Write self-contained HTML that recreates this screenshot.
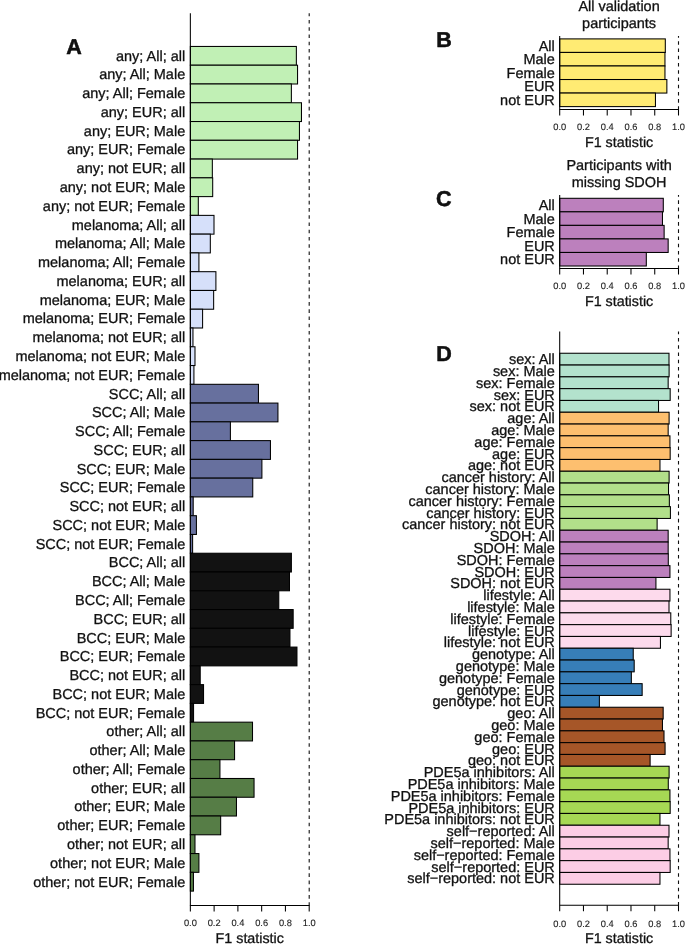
<!DOCTYPE html>
<html lang="en"><head><meta charset="utf-8"><title>F1 statistic by subgroup</title>
<style>
html,body{margin:0;padding:0;background:#fff}
body{width:685px;height:944px;overflow:hidden}
svg{display:block;font-family:"Liberation Sans",Arial,Helvetica,sans-serif;fill:#111}
text{stroke:#111;stroke-width:0.3px;text-rendering:geometricPrecision}
text.t{text-anchor:middle;fill:#222;stroke:#222;stroke-width:0.12px}
text.L{font-weight:bold;stroke:#000;stroke-width:0.5px}
</style></head><body>
<svg width="685" height="944" viewBox="0 0 685 944">
<rect x="0" y="0" width="685" height="944" fill="#fff" stroke="none"/>
<rect x="190.35" y="46.45" width="106.01" height="18.77" fill="#C1F0B5" stroke="#000" stroke-width="1.05"/>
<rect x="190.35" y="65.22" width="107.20" height="18.77" fill="#C1F0B5" stroke="#000" stroke-width="1.05"/>
<rect x="190.35" y="83.99" width="101.02" height="18.77" fill="#C1F0B5" stroke="#000" stroke-width="1.05"/>
<rect x="190.35" y="102.76" width="111.12" height="18.77" fill="#C1F0B5" stroke="#000" stroke-width="1.05"/>
<rect x="190.35" y="121.53" width="109.10" height="18.77" fill="#C1F0B5" stroke="#000" stroke-width="1.05"/>
<rect x="190.35" y="140.30" width="107.20" height="18.77" fill="#C1F0B5" stroke="#000" stroke-width="1.05"/>
<rect x="190.35" y="159.07" width="21.99" height="18.77" fill="#C1F0B5" stroke="#000" stroke-width="1.05"/>
<rect x="190.35" y="177.84" width="22.34" height="18.77" fill="#C1F0B5" stroke="#000" stroke-width="1.05"/>
<rect x="190.35" y="196.61" width="7.96" height="18.77" fill="#C1F0B5" stroke="#000" stroke-width="1.05"/>
<rect x="190.35" y="215.38" width="23.65" height="18.77" fill="#D6E0FA" stroke="#000" stroke-width="1.05"/>
<rect x="190.35" y="234.15" width="19.97" height="18.77" fill="#D6E0FA" stroke="#000" stroke-width="1.05"/>
<rect x="190.35" y="252.92" width="8.56" height="18.77" fill="#D6E0FA" stroke="#000" stroke-width="1.05"/>
<rect x="190.35" y="271.69" width="25.55" height="18.77" fill="#D6E0FA" stroke="#000" stroke-width="1.05"/>
<rect x="190.35" y="290.46" width="23.29" height="18.77" fill="#D6E0FA" stroke="#000" stroke-width="1.05"/>
<rect x="190.35" y="309.23" width="12.24" height="18.77" fill="#D6E0FA" stroke="#000" stroke-width="1.05"/>
<rect x="190.35" y="328.00" width="2.61" height="18.77" fill="#D6E0FA" stroke="#000" stroke-width="1.05"/>
<rect x="190.35" y="346.77" width="4.64" height="18.77" fill="#D6E0FA" stroke="#000" stroke-width="1.05"/>
<rect x="190.35" y="365.54" width="3.57" height="18.77" fill="#D6E0FA" stroke="#000" stroke-width="1.05"/>
<rect x="190.35" y="384.31" width="68.10" height="18.77" fill="#67709E" stroke="#000" stroke-width="1.05"/>
<rect x="190.35" y="403.08" width="87.59" height="18.77" fill="#67709E" stroke="#000" stroke-width="1.05"/>
<rect x="190.35" y="421.85" width="40.05" height="18.77" fill="#67709E" stroke="#000" stroke-width="1.05"/>
<rect x="190.35" y="440.62" width="80.10" height="18.77" fill="#67709E" stroke="#000" stroke-width="1.05"/>
<rect x="190.35" y="459.39" width="71.55" height="18.77" fill="#67709E" stroke="#000" stroke-width="1.05"/>
<rect x="190.35" y="478.16" width="62.40" height="18.77" fill="#67709E" stroke="#000" stroke-width="1.05"/>
<rect x="190.35" y="496.93" width="2.85" height="18.77" fill="#67709E" stroke="#000" stroke-width="1.05"/>
<rect x="190.35" y="515.70" width="6.06" height="18.77" fill="#67709E" stroke="#000" stroke-width="1.05"/>
<rect x="190.35" y="534.47" width="2.26" height="18.77" fill="#67709E" stroke="#000" stroke-width="1.05"/>
<rect x="190.35" y="553.24" width="101.02" height="18.77" fill="#121212" stroke="#000" stroke-width="1.05"/>
<rect x="190.35" y="572.01" width="99.12" height="18.77" fill="#121212" stroke="#000" stroke-width="1.05"/>
<rect x="190.35" y="590.78" width="88.42" height="18.77" fill="#121212" stroke="#000" stroke-width="1.05"/>
<rect x="190.35" y="609.55" width="102.81" height="18.77" fill="#121212" stroke="#000" stroke-width="1.05"/>
<rect x="190.35" y="628.32" width="99.60" height="18.77" fill="#121212" stroke="#000" stroke-width="1.05"/>
<rect x="190.35" y="647.09" width="106.61" height="18.77" fill="#121212" stroke="#000" stroke-width="1.05"/>
<rect x="190.35" y="665.86" width="9.86" height="18.77" fill="#121212" stroke="#000" stroke-width="1.05"/>
<rect x="190.35" y="684.63" width="13.19" height="18.77" fill="#121212" stroke="#000" stroke-width="1.05"/>
<rect x="190.35" y="703.40" width="3.21" height="18.77" fill="#121212" stroke="#000" stroke-width="1.05"/>
<rect x="190.35" y="722.17" width="62.16" height="18.77" fill="#567D46" stroke="#000" stroke-width="1.05"/>
<rect x="190.35" y="740.94" width="44.21" height="18.77" fill="#567D46" stroke="#000" stroke-width="1.05"/>
<rect x="190.35" y="759.71" width="29.59" height="18.77" fill="#567D46" stroke="#000" stroke-width="1.05"/>
<rect x="190.35" y="778.48" width="63.70" height="18.77" fill="#567D46" stroke="#000" stroke-width="1.05"/>
<rect x="190.35" y="797.25" width="46.11" height="18.77" fill="#567D46" stroke="#000" stroke-width="1.05"/>
<rect x="190.35" y="816.02" width="30.31" height="18.77" fill="#567D46" stroke="#000" stroke-width="1.05"/>
<rect x="190.35" y="834.79" width="4.64" height="18.77" fill="#567D46" stroke="#000" stroke-width="1.05"/>
<rect x="190.35" y="853.56" width="8.56" height="18.77" fill="#567D46" stroke="#000" stroke-width="1.05"/>
<rect x="190.35" y="872.33" width="3.09" height="18.77" fill="#567D46" stroke="#000" stroke-width="1.05"/>
<line x1="309.20" y1="905.90" x2="309.20" y2="13.30" stroke="#111" stroke-width="1.1" stroke-dasharray="3.6 3.632"/>
<path d="M190.35 13.30V905.40H309.20" fill="none" stroke="#000" stroke-width="1.05"/>
<path d="M190.35 905.40v6M214.12 905.40v6M237.89 905.40v6M261.66 905.40v6M285.43 905.40v6M309.20 905.40v6" fill="none" stroke="#000" stroke-width="1.05"/>
<text x="190.35" y="926.30" class="t" font-size="9.3">0.0</text>
<text x="214.12" y="926.30" class="t" font-size="9.3">0.2</text>
<text x="237.89" y="926.30" class="t" font-size="9.3">0.4</text>
<text x="261.66" y="926.30" class="t" font-size="9.3">0.6</text>
<text x="285.43" y="926.30" class="t" font-size="9.3">0.8</text>
<text x="309.20" y="926.30" class="t" font-size="9.3">1.0</text>
<text x="249.77" y="942.70" font-size="14.3" text-anchor="middle">F1 statistic</text>
<text x="185.20" y="60.63" font-size="14.48" text-anchor="end">any; All; all</text>
<text x="185.20" y="79.41" font-size="14.48" text-anchor="end">any; All; Male</text>
<text x="185.20" y="98.17" font-size="14.48" text-anchor="end">any; All; Female</text>
<text x="185.20" y="116.94" font-size="14.48" text-anchor="end">any; EUR; all</text>
<text x="185.20" y="135.72" font-size="14.48" text-anchor="end">any; EUR; Male</text>
<text x="185.20" y="154.49" font-size="14.48" text-anchor="end">any; EUR; Female</text>
<text x="185.20" y="173.25" font-size="14.48" text-anchor="end">any; not EUR; all</text>
<text x="185.20" y="192.03" font-size="14.48" text-anchor="end">any; not EUR; Male</text>
<text x="185.20" y="210.80" font-size="14.48" text-anchor="end">any; not EUR; Female</text>
<text x="185.20" y="229.56" font-size="14.48" text-anchor="end">melanoma; All; all</text>
<text x="185.20" y="248.34" font-size="14.48" text-anchor="end">melanoma; All; Male</text>
<text x="185.20" y="267.11" font-size="14.48" text-anchor="end">melanoma; All; Female</text>
<text x="185.20" y="285.88" font-size="14.48" text-anchor="end">melanoma; EUR; all</text>
<text x="185.20" y="304.64" font-size="14.48" text-anchor="end">melanoma; EUR; Male</text>
<text x="185.20" y="323.42" font-size="14.48" text-anchor="end">melanoma; EUR; Female</text>
<text x="185.20" y="342.19" font-size="14.48" text-anchor="end">melanoma; not EUR; all</text>
<text x="185.20" y="360.95" font-size="14.48" text-anchor="end">melanoma; not EUR; Male</text>
<text x="185.20" y="379.72" font-size="14.48" text-anchor="end">melanoma; not EUR; Female</text>
<text x="185.20" y="398.50" font-size="14.48" text-anchor="end">SCC; All; all</text>
<text x="185.20" y="417.26" font-size="14.48" text-anchor="end">SCC; All; Male</text>
<text x="185.20" y="436.03" font-size="14.48" text-anchor="end">SCC; All; Female</text>
<text x="185.20" y="454.81" font-size="14.48" text-anchor="end">SCC; EUR; all</text>
<text x="185.20" y="473.57" font-size="14.48" text-anchor="end">SCC; EUR; Male</text>
<text x="185.20" y="492.34" font-size="14.48" text-anchor="end">SCC; EUR; Female</text>
<text x="185.20" y="511.12" font-size="14.48" text-anchor="end">SCC; not EUR; all</text>
<text x="185.20" y="529.88" font-size="14.48" text-anchor="end">SCC; not EUR; Male</text>
<text x="185.20" y="548.65" font-size="14.48" text-anchor="end">SCC; not EUR; Female</text>
<text x="185.20" y="567.42" font-size="14.48" text-anchor="end">BCC; All; all</text>
<text x="185.20" y="586.19" font-size="14.48" text-anchor="end">BCC; All; Male</text>
<text x="185.20" y="604.97" font-size="14.48" text-anchor="end">BCC; All; Female</text>
<text x="185.20" y="623.74" font-size="14.48" text-anchor="end">BCC; EUR; all</text>
<text x="185.20" y="642.50" font-size="14.48" text-anchor="end">BCC; EUR; Male</text>
<text x="185.20" y="661.27" font-size="14.48" text-anchor="end">BCC; EUR; Female</text>
<text x="185.20" y="680.04" font-size="14.48" text-anchor="end">BCC; not EUR; all</text>
<text x="185.20" y="698.81" font-size="14.48" text-anchor="end">BCC; not EUR; Male</text>
<text x="185.20" y="717.59" font-size="14.48" text-anchor="end">BCC; not EUR; Female</text>
<text x="185.20" y="736.36" font-size="14.48" text-anchor="end">other; All; all</text>
<text x="185.20" y="755.12" font-size="14.48" text-anchor="end">other; All; Male</text>
<text x="185.20" y="773.89" font-size="14.48" text-anchor="end">other; All; Female</text>
<text x="185.20" y="792.66" font-size="14.48" text-anchor="end">other; EUR; all</text>
<text x="185.20" y="811.43" font-size="14.48" text-anchor="end">other; EUR; Male</text>
<text x="185.20" y="830.20" font-size="14.48" text-anchor="end">other; EUR; Female</text>
<text x="185.20" y="848.98" font-size="14.48" text-anchor="end">other; not EUR; all</text>
<text x="185.20" y="867.75" font-size="14.48" text-anchor="end">other; not EUR; Male</text>
<text x="185.20" y="886.51" font-size="14.48" text-anchor="end">other; not EUR; Female</text>
<text x="66.20" y="53.70" class="L" font-size="21.5">A</text>
<rect x="559.70" y="38.90" width="105.61" height="13.54" fill="#FFEB73" stroke="#000" stroke-width="1.05"/>
<rect x="559.70" y="52.44" width="105.26" height="13.54" fill="#FFEB73" stroke="#000" stroke-width="1.05"/>
<rect x="559.70" y="65.98" width="105.26" height="13.54" fill="#FFEB73" stroke="#000" stroke-width="1.05"/>
<rect x="559.70" y="79.52" width="107.16" height="13.54" fill="#FFEB73" stroke="#000" stroke-width="1.05"/>
<rect x="559.70" y="93.06" width="95.75" height="13.54" fill="#FFEB73" stroke="#000" stroke-width="1.05"/>
<line x1="678.50" y1="109.95" x2="678.50" y2="36.00" stroke="#111" stroke-width="1.1" stroke-dasharray="3.6 3.632"/>
<path d="M559.70 36.00V109.45H678.50" fill="none" stroke="#000" stroke-width="1.05"/>
<path d="M559.70 109.45v6M583.46 109.45v6M607.22 109.45v6M630.98 109.45v6M654.74 109.45v6M678.50 109.45v6" fill="none" stroke="#000" stroke-width="1.05"/>
<text x="559.70" y="130.30" class="t" font-size="9.3">0.0</text>
<text x="583.46" y="130.30" class="t" font-size="9.3">0.2</text>
<text x="607.22" y="130.30" class="t" font-size="9.3">0.4</text>
<text x="630.98" y="130.30" class="t" font-size="9.3">0.6</text>
<text x="654.74" y="130.30" class="t" font-size="9.3">0.8</text>
<text x="678.50" y="130.30" class="t" font-size="9.3">1.0</text>
<text x="619.10" y="147.35" font-size="14.3" text-anchor="middle">F1 statistic</text>
<text x="554.80" y="50.67" font-size="14.48" text-anchor="end">All</text>
<text x="554.80" y="64.21" font-size="14.48" text-anchor="end">Male</text>
<text x="554.80" y="77.75" font-size="14.48" text-anchor="end">Female</text>
<text x="554.80" y="91.29" font-size="14.48" text-anchor="end">EUR</text>
<text x="554.80" y="104.83" font-size="14.48" text-anchor="end">not EUR</text>
<text x="436.30" y="46.50" class="L" font-size="21.5">B</text>
<text x="619.10" y="10.60" font-size="14.48" text-anchor="middle">All validation</text>
<text x="619.10" y="27.50" font-size="14.48" text-anchor="middle">participants</text>
<rect x="559.70" y="198.30" width="103.59" height="13.54" fill="#BC80BD" stroke="#000" stroke-width="1.05"/>
<rect x="559.70" y="211.84" width="102.76" height="13.54" fill="#BC80BD" stroke="#000" stroke-width="1.05"/>
<rect x="559.70" y="225.38" width="104.43" height="13.54" fill="#BC80BD" stroke="#000" stroke-width="1.05"/>
<rect x="559.70" y="238.92" width="108.46" height="13.54" fill="#BC80BD" stroke="#000" stroke-width="1.05"/>
<rect x="559.70" y="252.46" width="86.61" height="13.54" fill="#BC80BD" stroke="#000" stroke-width="1.05"/>
<line x1="678.50" y1="269.05" x2="678.50" y2="194.90" stroke="#111" stroke-width="1.1" stroke-dasharray="3.6 3.632"/>
<path d="M559.70 194.90V268.55H678.50" fill="none" stroke="#000" stroke-width="1.05"/>
<path d="M559.70 268.55v6M583.46 268.55v6M607.22 268.55v6M630.98 268.55v6M654.74 268.55v6M678.50 268.55v6" fill="none" stroke="#000" stroke-width="1.05"/>
<text x="559.70" y="289.00" class="t" font-size="9.3">0.0</text>
<text x="583.46" y="289.00" class="t" font-size="9.3">0.2</text>
<text x="607.22" y="289.00" class="t" font-size="9.3">0.4</text>
<text x="630.98" y="289.00" class="t" font-size="9.3">0.6</text>
<text x="654.74" y="289.00" class="t" font-size="9.3">0.8</text>
<text x="678.50" y="289.00" class="t" font-size="9.3">1.0</text>
<text x="619.10" y="306.30" font-size="14.3" text-anchor="middle">F1 statistic</text>
<text x="554.80" y="210.17" font-size="14.48" text-anchor="end">All</text>
<text x="554.80" y="223.71" font-size="14.48" text-anchor="end">Male</text>
<text x="554.80" y="237.25" font-size="14.48" text-anchor="end">Female</text>
<text x="554.80" y="250.79" font-size="14.48" text-anchor="end">EUR</text>
<text x="554.80" y="264.33" font-size="14.48" text-anchor="end">not EUR</text>
<text x="436.00" y="205.50" class="L" font-size="21.5">C</text>
<text x="619.10" y="170.10" font-size="14.48" text-anchor="middle">Participants with</text>
<text x="619.10" y="187.00" font-size="14.48" text-anchor="middle">missing SDOH</text>
<rect x="559.70" y="353.25" width="109.30" height="11.80" fill="#B3E2CD" stroke="#000" stroke-width="1.05"/>
<rect x="559.70" y="365.05" width="109.41" height="11.80" fill="#B3E2CD" stroke="#000" stroke-width="1.05"/>
<rect x="559.70" y="376.85" width="108.46" height="11.80" fill="#B3E2CD" stroke="#000" stroke-width="1.05"/>
<rect x="559.70" y="388.65" width="110.48" height="11.80" fill="#B3E2CD" stroke="#000" stroke-width="1.05"/>
<rect x="559.70" y="400.45" width="98.84" height="11.80" fill="#B3E2CD" stroke="#000" stroke-width="1.05"/>
<rect x="559.70" y="412.25" width="109.41" height="11.80" fill="#FDBF6F" stroke="#000" stroke-width="1.05"/>
<rect x="559.70" y="424.05" width="108.46" height="11.80" fill="#FDBF6F" stroke="#000" stroke-width="1.05"/>
<rect x="559.70" y="435.85" width="110.25" height="11.80" fill="#FDBF6F" stroke="#000" stroke-width="1.05"/>
<rect x="559.70" y="447.65" width="110.48" height="11.80" fill="#FDBF6F" stroke="#000" stroke-width="1.05"/>
<rect x="559.70" y="459.45" width="100.27" height="11.80" fill="#FDBF6F" stroke="#000" stroke-width="1.05"/>
<rect x="559.70" y="471.25" width="109.41" height="11.80" fill="#B2DF8A" stroke="#000" stroke-width="1.05"/>
<rect x="559.70" y="483.05" width="108.82" height="11.80" fill="#B2DF8A" stroke="#000" stroke-width="1.05"/>
<rect x="559.70" y="494.85" width="109.65" height="11.80" fill="#B2DF8A" stroke="#000" stroke-width="1.05"/>
<rect x="559.70" y="506.65" width="110.72" height="11.80" fill="#B2DF8A" stroke="#000" stroke-width="1.05"/>
<rect x="559.70" y="518.45" width="97.42" height="11.80" fill="#B2DF8A" stroke="#000" stroke-width="1.05"/>
<rect x="559.70" y="530.25" width="108.46" height="11.80" fill="#BC80BD" stroke="#000" stroke-width="1.05"/>
<rect x="559.70" y="542.05" width="108.46" height="11.80" fill="#BC80BD" stroke="#000" stroke-width="1.05"/>
<rect x="559.70" y="553.85" width="108.58" height="11.80" fill="#BC80BD" stroke="#000" stroke-width="1.05"/>
<rect x="559.70" y="565.65" width="110.25" height="11.80" fill="#BC80BD" stroke="#000" stroke-width="1.05"/>
<rect x="559.70" y="577.45" width="96.23" height="11.80" fill="#BC80BD" stroke="#000" stroke-width="1.05"/>
<rect x="559.70" y="589.25" width="110.25" height="11.80" fill="#FDDAEC" stroke="#000" stroke-width="1.05"/>
<rect x="559.70" y="601.05" width="109.30" height="11.80" fill="#FDDAEC" stroke="#000" stroke-width="1.05"/>
<rect x="559.70" y="612.85" width="111.08" height="11.80" fill="#FDDAEC" stroke="#000" stroke-width="1.05"/>
<rect x="559.70" y="624.65" width="111.43" height="11.80" fill="#FDDAEC" stroke="#000" stroke-width="1.05"/>
<rect x="559.70" y="636.45" width="100.74" height="11.80" fill="#FDDAEC" stroke="#000" stroke-width="1.05"/>
<rect x="559.70" y="648.25" width="73.54" height="11.80" fill="#377EB8" stroke="#000" stroke-width="1.05"/>
<rect x="559.70" y="660.05" width="74.49" height="11.80" fill="#377EB8" stroke="#000" stroke-width="1.05"/>
<rect x="559.70" y="671.85" width="71.64" height="11.80" fill="#377EB8" stroke="#000" stroke-width="1.05"/>
<rect x="559.70" y="683.65" width="82.45" height="11.80" fill="#377EB8" stroke="#000" stroke-width="1.05"/>
<rect x="559.70" y="695.45" width="39.68" height="11.80" fill="#377EB8" stroke="#000" stroke-width="1.05"/>
<rect x="559.70" y="707.25" width="103.47" height="11.80" fill="#A65628" stroke="#000" stroke-width="1.05"/>
<rect x="559.70" y="719.05" width="102.76" height="11.80" fill="#A65628" stroke="#000" stroke-width="1.05"/>
<rect x="559.70" y="730.85" width="104.31" height="11.80" fill="#A65628" stroke="#000" stroke-width="1.05"/>
<rect x="559.70" y="742.65" width="105.38" height="11.80" fill="#A65628" stroke="#000" stroke-width="1.05"/>
<rect x="559.70" y="754.45" width="90.41" height="11.80" fill="#A65628" stroke="#000" stroke-width="1.05"/>
<rect x="559.70" y="766.25" width="109.41" height="11.80" fill="#A6D854" stroke="#000" stroke-width="1.05"/>
<rect x="559.70" y="778.05" width="108.58" height="11.80" fill="#A6D854" stroke="#000" stroke-width="1.05"/>
<rect x="559.70" y="789.85" width="110.25" height="11.80" fill="#A6D854" stroke="#000" stroke-width="1.05"/>
<rect x="559.70" y="801.65" width="110.48" height="11.80" fill="#A6D854" stroke="#000" stroke-width="1.05"/>
<rect x="559.70" y="813.45" width="100.27" height="11.80" fill="#A6D854" stroke="#000" stroke-width="1.05"/>
<rect x="559.70" y="825.25" width="109.30" height="11.80" fill="#FCCDE5" stroke="#000" stroke-width="1.05"/>
<rect x="559.70" y="837.05" width="108.46" height="11.80" fill="#FCCDE5" stroke="#000" stroke-width="1.05"/>
<rect x="559.70" y="848.85" width="110.25" height="11.80" fill="#FCCDE5" stroke="#000" stroke-width="1.05"/>
<rect x="559.70" y="860.65" width="110.48" height="11.80" fill="#FCCDE5" stroke="#000" stroke-width="1.05"/>
<rect x="559.70" y="872.45" width="100.27" height="11.80" fill="#FCCDE5" stroke="#000" stroke-width="1.05"/>
<line x1="678.50" y1="905.70" x2="678.50" y2="331.60" stroke="#111" stroke-width="1.1" stroke-dasharray="3.6 3.632"/>
<path d="M559.70 331.60V905.20H678.50" fill="none" stroke="#000" stroke-width="1.05"/>
<path d="M559.70 905.20v6M583.46 905.20v6M607.22 905.20v6M630.98 905.20v6M654.74 905.20v6M678.50 905.20v6" fill="none" stroke="#000" stroke-width="1.05"/>
<text x="559.70" y="926.50" class="t" font-size="9.3">0.0</text>
<text x="583.46" y="926.50" class="t" font-size="9.3">0.2</text>
<text x="607.22" y="926.50" class="t" font-size="9.3">0.4</text>
<text x="630.98" y="926.50" class="t" font-size="9.3">0.6</text>
<text x="654.74" y="926.50" class="t" font-size="9.3">0.8</text>
<text x="678.50" y="926.50" class="t" font-size="9.3">1.0</text>
<text x="619.10" y="943.40" font-size="14.3" text-anchor="middle">F1 statistic</text>
<text x="554.80" y="364.25" font-size="14.48" text-anchor="end">sex: All</text>
<text x="554.80" y="376.05" font-size="14.48" text-anchor="end">sex: Male</text>
<text x="554.80" y="387.85" font-size="14.48" text-anchor="end">sex: Female</text>
<text x="554.80" y="399.65" font-size="14.48" text-anchor="end">sex: EUR</text>
<text x="554.80" y="411.45" font-size="14.48" text-anchor="end">sex: not EUR</text>
<text x="554.80" y="423.25" font-size="14.48" text-anchor="end">age: All</text>
<text x="554.80" y="435.05" font-size="14.48" text-anchor="end">age: Male</text>
<text x="554.80" y="446.85" font-size="14.48" text-anchor="end">age: Female</text>
<text x="554.80" y="458.65" font-size="14.48" text-anchor="end">age: EUR</text>
<text x="554.80" y="470.45" font-size="14.48" text-anchor="end">age: not EUR</text>
<text x="554.80" y="482.25" font-size="14.48" text-anchor="end">cancer history: All</text>
<text x="554.80" y="494.05" font-size="14.48" text-anchor="end">cancer history: Male</text>
<text x="554.80" y="505.85" font-size="14.48" text-anchor="end">cancer history: Female</text>
<text x="554.80" y="517.65" font-size="14.48" text-anchor="end">cancer history: EUR</text>
<text x="554.80" y="529.45" font-size="14.48" text-anchor="end">cancer history: not EUR</text>
<text x="554.80" y="541.25" font-size="14.48" text-anchor="end">SDOH: All</text>
<text x="554.80" y="553.05" font-size="14.48" text-anchor="end">SDOH: Male</text>
<text x="554.80" y="564.85" font-size="14.48" text-anchor="end">SDOH: Female</text>
<text x="554.80" y="576.65" font-size="14.48" text-anchor="end">SDOH: EUR</text>
<text x="554.80" y="588.45" font-size="14.48" text-anchor="end">SDOH: not EUR</text>
<text x="554.80" y="600.25" font-size="14.48" text-anchor="end">lifestyle: All</text>
<text x="554.80" y="612.05" font-size="14.48" text-anchor="end">lifestyle: Male</text>
<text x="554.80" y="623.85" font-size="14.48" text-anchor="end">lifestyle: Female</text>
<text x="554.80" y="635.65" font-size="14.48" text-anchor="end">lifestyle: EUR</text>
<text x="554.80" y="647.45" font-size="14.48" text-anchor="end">lifestyle: not EUR</text>
<text x="554.80" y="659.25" font-size="14.48" text-anchor="end">genotype: All</text>
<text x="554.80" y="671.05" font-size="14.48" text-anchor="end">genotype: Male</text>
<text x="554.80" y="682.85" font-size="14.48" text-anchor="end">genotype: Female</text>
<text x="554.80" y="694.65" font-size="14.48" text-anchor="end">genotype: EUR</text>
<text x="554.80" y="706.45" font-size="14.48" text-anchor="end">genotype: not EUR</text>
<text x="554.80" y="718.25" font-size="14.48" text-anchor="end">geo: All</text>
<text x="554.80" y="730.05" font-size="14.48" text-anchor="end">geo: Male</text>
<text x="554.80" y="741.85" font-size="14.48" text-anchor="end">geo: Female</text>
<text x="554.80" y="753.65" font-size="14.48" text-anchor="end">geo: EUR</text>
<text x="554.80" y="765.45" font-size="14.48" text-anchor="end">geo: not EUR</text>
<text x="554.80" y="777.25" font-size="14.48" text-anchor="end">PDE5a inhibitors: All</text>
<text x="554.80" y="789.05" font-size="14.48" text-anchor="end">PDE5a inhibitors: Male</text>
<text x="554.80" y="800.85" font-size="14.48" text-anchor="end">PDE5a inhibitors: Female</text>
<text x="554.80" y="812.65" font-size="14.48" text-anchor="end">PDE5a inhibitors: EUR</text>
<text x="554.80" y="824.45" font-size="14.48" text-anchor="end">PDE5a inhibitors: not EUR</text>
<text x="554.80" y="836.25" font-size="14.48" text-anchor="end">self−reported: All</text>
<text x="554.80" y="848.05" font-size="14.48" text-anchor="end">self−reported: Male</text>
<text x="554.80" y="859.85" font-size="14.48" text-anchor="end">self−reported: Female</text>
<text x="554.80" y="871.65" font-size="14.48" text-anchor="end">self−reported: EUR</text>
<text x="554.80" y="883.45" font-size="14.48" text-anchor="end">self−reported: not EUR</text>
<text x="436.30" y="360.60" class="L" font-size="21.5">D</text>
</svg>
</body></html>
